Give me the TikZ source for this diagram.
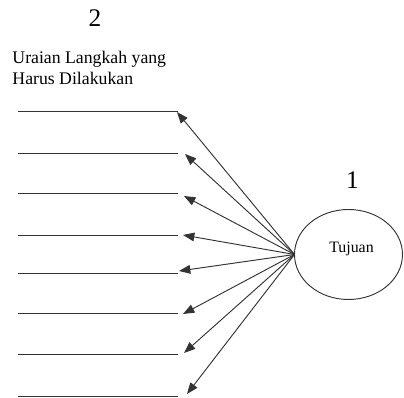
\documentclass[tikz,border=0pt]{standalone}
\usepackage{fontspec}
\setmainfont{Liberation Serif}
\usetikzlibrary{shapes.geometric,arrows.meta}
\begin{document}
\begin{tikzpicture}[x=0.75pt,y=-0.75pt,line width=0.7pt,
    garis/.style={draw=black!80},
    panah/.style={draw=black!80,-{Triangle[length=8.5pt,width=6.5pt]}},
    nomor/.style={font=\fontsize{19}{20}\selectfont,inner sep=0}]
  \useasboundingbox (0,0) rectangle (404,398);
  \draw
    (95,18.5) node[nomor] (2){2}
    (352.5,180.5) node[nomor] (1){1};
  \node[anchor=north west,inner sep=0,align=left,font=\fontsize{13.3}{15.75}\selectfont]
    (judul) at (12,50.7) {Uraian Langkah yang\\Harus Dilakukan};
  \node[ellipse,draw=black!80,inner sep=0,outer sep=0,minimum width=81pt,minimum height=67.5pt,
    label={[xshift=2.25pt,yshift=4.4pt,font=\fontsize{11.9}{14}\selectfont]center:Tujuan}]
    (tujuan) at (348.5,254.5) {};
  \foreach \i/\y/\tx/\ty in {1/111/177/112, 2/153/185/154, 3/193/184/196, 4/235/183/235,
                             5/273/179/271, 6/313/183/314, 7/354/184/353, 8/396/187/394} {
    \coordinate (a\i) at (18,\y);
    \coordinate (b\i) at (178,\y);
    \coordinate (t\i) at (\tx,\ty);
    \draw[garis] (a\i) -- (b\i);
    \draw[panah] (tujuan.west) -- (t\i);
  }
\end{tikzpicture}
\end{document}
